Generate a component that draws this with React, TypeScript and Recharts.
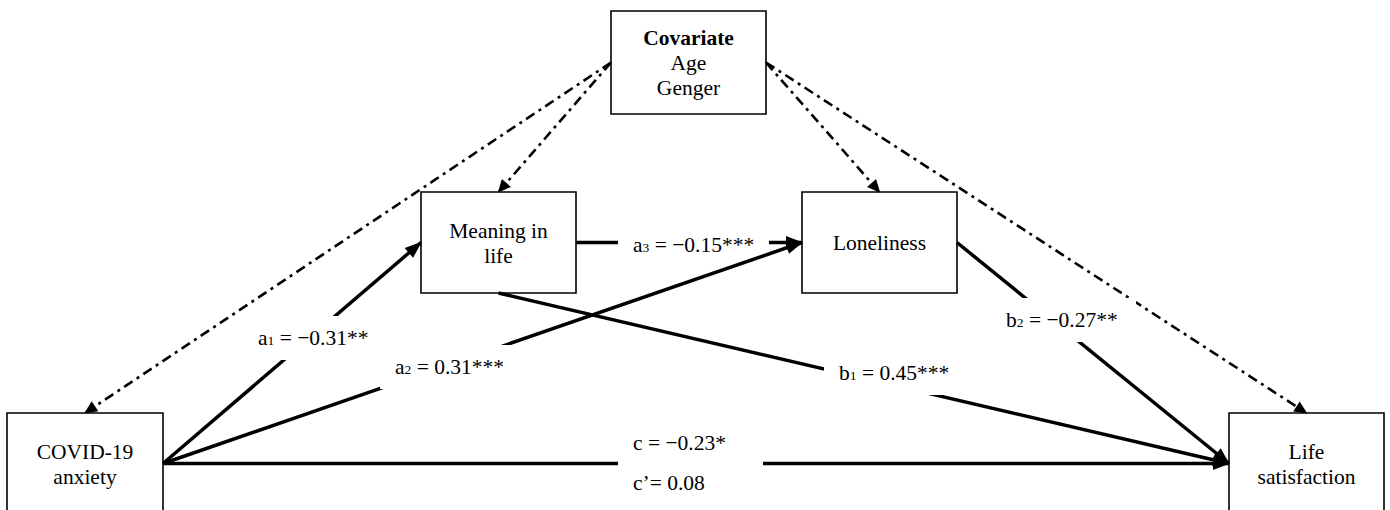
import React from 'react';
import { ComposedChart, XAxis, YAxis, Scatter, ReferenceArea } from 'recharts';

// ---------------- data ----------------
const nodeIds = ['cov', 'mean', 'lone', 'anx', 'life'];
const nodeLines = [
  ['Covariate', 'Age', 'Genger'],
  ['Meaning in', 'life'],
  ['Loneliness'],
  ['COVID-19', 'anxiety'],
  ['Life', 'satisfaction'],
];
const nodeBoldFirst = [true, false, false, false, false];

const pathIds = ['a3', 'a1', 'a2', 'b1', 'b2', 'c', 'cp'];
const pathLetters = ['a', 'a', 'a', 'b', 'b', 'c ', 'c\u2019'];
const pathSubs = ['3', '1', '2', '1', '2', '', ''];
const pathCoefs = [-0.15, -0.31, 0.31, 0.45, -0.27, -0.23, 0.08];
const pathStars = ['***', '**', '***', '***', '**', '*', ''];

const covariateTargets = ['anx', 'mean', 'lone', 'life'];

// ---------------- layout ----------------
const W = 1390;
const H = 510;
const FONT = '"Liberation Serif", "Times New Roman", serif';
const FS = 21.5;

const boxLayout: Record<string, [number, number, number, number]> = {
  cov: [611, 766, 11, 114],
  mean: [421, 576, 192, 293],
  lone: [802, 957, 192, 293],
  anx: [7, 163, 413, 514],
  life: [1229, 1384, 413, 514],
};

// edges: [fromNode, fromSide, toNode, toSide]
const pathEdges: Record<string, [string, string, string, string] | null> = {
  a1: ['anx', 'right', 'mean', 'left'],
  a2: ['anx', 'right', 'lone', 'left'],
  a3: ['mean', 'right', 'lone', 'left'],
  b1: ['mean', 'bottom', 'life', 'left'],
  b2: ['lone', 'right', 'life', 'left'],
  c: ['anx', 'right', 'life', 'left'],
  cp: null,
};
const covariateSides: Record<string, string> = { anx: 'left', mean: 'left', lone: 'right', life: 'right' };

// label anchor: [left x, baseline y]
const labelPos: Record<string, [number, number]> = {
  a1: [258, 345],
  a2: [395, 374],
  a3: [633, 252],
  b1: [839, 380],
  b2: [1006, 327],
  c: [633, 450],
  cp: [633, 490],
};

const anchor = (id: string, side: string) => {
  const [x1, x2, y1, y2] = boxLayout[id];
  const cx = (x1 + x2) / 2;
  const cy = (y1 + y2) / 2;
  if (side === 'left') return { x: x1, y: cy };
  if (side === 'right') return { x: x2, y: cy };
  if (side === 'top') return { x: cx, y: y1 };
  return { x: cx, y: y2 };
};

const edgeData = (from: string, fs: string, to: string, ts: string) => {
  const a = anchor(from, fs);
  const b = anchor(to, ts);
  return [
    { x: a.x, y: a.y, head: false },
    { x: b.x, y: b.y, head: true, dx: b.x - a.x, dy: b.y - a.y },
  ];
};

const arrowShape = (len: number, half: number) => (props: any) => {
  const { cx, cy, payload } = props;
  if (!payload || !payload.head) return <g />;
  const ang = Math.atan2(payload.dy, payload.dx);
  const c = Math.cos(ang);
  const s = Math.sin(ang);
  const tx = cx + c * 1;
  const ty = cy + s * 1;
  const bx = tx - c * len;
  const by = ty - s * len;
  const p1 = `${tx},${ty}`;
  const p2 = `${bx - s * half},${by + c * half}`;
  const p3 = `${bx + s * half},${by - c * half}`;
  return <polygon points={`${p1} ${p2} ${p3}`} fill="#000" stroke="none" />;
};

const charW: Record<string, number> = {
  a: 0.444, b: 0.5, c: 0.444, ' ': 0.25, '=': 0.564, '\u2212': 0.564, '.': 0.25, '*': 0.5, '\u2019': 0.333,
};
const textWidth = (s: string, fs: number) =>
  s.split('').reduce((acc, ch) => acc + (charW[ch] ?? 0.5) * fs, 0);

const fmt = (v: number) => (v < 0 ? `\u2212${Math.abs(v).toFixed(2)}` : v.toFixed(2));

const labelShape = (props: any) => {
  const { cx, cy, payload } = props;
  const { letter, sub, rest } = payload;
  const tw = textWidth(letter, FS) + textWidth(sub, 13) + textWidth(rest, FS);
  const rw = Math.max(tw, 115) + 30;
  return (
    <g>
      <rect x={cx - 15} y={cy - 29} width={rw} height={44} fill="#fff" stroke="none" />
      <text x={cx} y={cy} fontFamily={FONT} fontSize={FS} fill="#000">
        <tspan>{letter}</tspan>
        {sub ? <tspan fontSize={13.5}>{sub}</tspan> : null}
        <tspan>{rest}</tspan>
      </text>
    </g>
  );
};

const nodeTextShape = (props: any) => {
  const { cx, cy, payload } = props;
  const lines: string[] = payload.lines;
  const n = lines.length;
  return (
    <g>
      {lines.map((ln, i) => (
        <text
          key={i}
          x={cx}
          y={cy + (i - (n - 1) / 2) * 25 + 7.5}
          textAnchor="middle"
          fontFamily={FONT}
          fontSize={FS}
          fontWeight={payload.bold && i === 0 ? 'bold' : 'normal'}
          fill="#000"
        >
          {ln}
        </text>
      ))}
    </g>
  );
};

export default function App() {
  const nodeTextData = nodeIds.map((id, i) => {
    const [x1, x2, y1, y2] = boxLayout[id];
    return { x: (x1 + x2) / 2, y: (y1 + y2) / 2, lines: nodeLines[i], bold: nodeBoldFirst[i] };
  });

  const dashArrow = arrowShape(13, 6);
  const solidArrow = arrowShape(17, 6.5);

  const pathElems: React.ReactNode[] = [];
  pathIds.forEach((pid, i) => {
    const e = pathEdges[pid];
    if (e) {
      pathElems.push(
        <Scatter
          key={`edge-${pid}`}
          data={edgeData(e[0], e[1], e[2], e[3])}
          fill="#000"
          line={{ stroke: '#000', strokeWidth: 3.5 }}
          shape={solidArrow}
          isAnimationActive={false}
        />
      );
    }
    const [lx, ly] = labelPos[pid];
    const sub = pathSubs[i];
    const rest = `${sub ? ' ' : ''}= ${fmt(pathCoefs[i])}${pathStars[i]}`;
    pathElems.push(
      <Scatter
        key={`label-${pid}`}
        data={[{ x: lx, y: ly, letter: pathLetters[i], sub, rest }]}
        fill="#000"
        shape={labelShape}
        isAnimationActive={false}
      />
    );
  });

  return (
    <div style={{ position: 'absolute', left: 0, top: 0, width: W, height: H, background: '#fff' }}>
      <ComposedChart width={W} height={H} margin={{ top: 0, right: 0, bottom: 0, left: 0 }}>
        <XAxis type="number" dataKey="x" domain={[0, W]} hide allowDataOverflow />
        <YAxis type="number" dataKey="y" domain={[0, H]} reversed hide allowDataOverflow />
        {nodeIds.map((id) => {
          const [x1, x2, y1, y2] = boxLayout[id];
          return (
            <ReferenceArea
              key={`box-${id}`}
              x1={x1}
              x2={x2}
              y1={y1}
              y2={y2}
              fill="#fff"
              fillOpacity={1}
              stroke="#000"
              strokeWidth={1.6}
              ifOverflow="visible"
            />
          );
        })}
        {covariateTargets.map((t) => (
          <Scatter
            key={`cov-${t}`}
            data={edgeData('cov', covariateSides[t], t, 'top')}
            fill="#000"
            line={{ stroke: '#000', strokeWidth: 2.6, strokeDasharray: '10 5 3 5' }}
            shape={dashArrow}
            isAnimationActive={false}
          />
        ))}
        {pathElems}
        <Scatter data={nodeTextData} fill="#000" shape={nodeTextShape} isAnimationActive={false} />
      </ComposedChart>
    </div>
  );
}
